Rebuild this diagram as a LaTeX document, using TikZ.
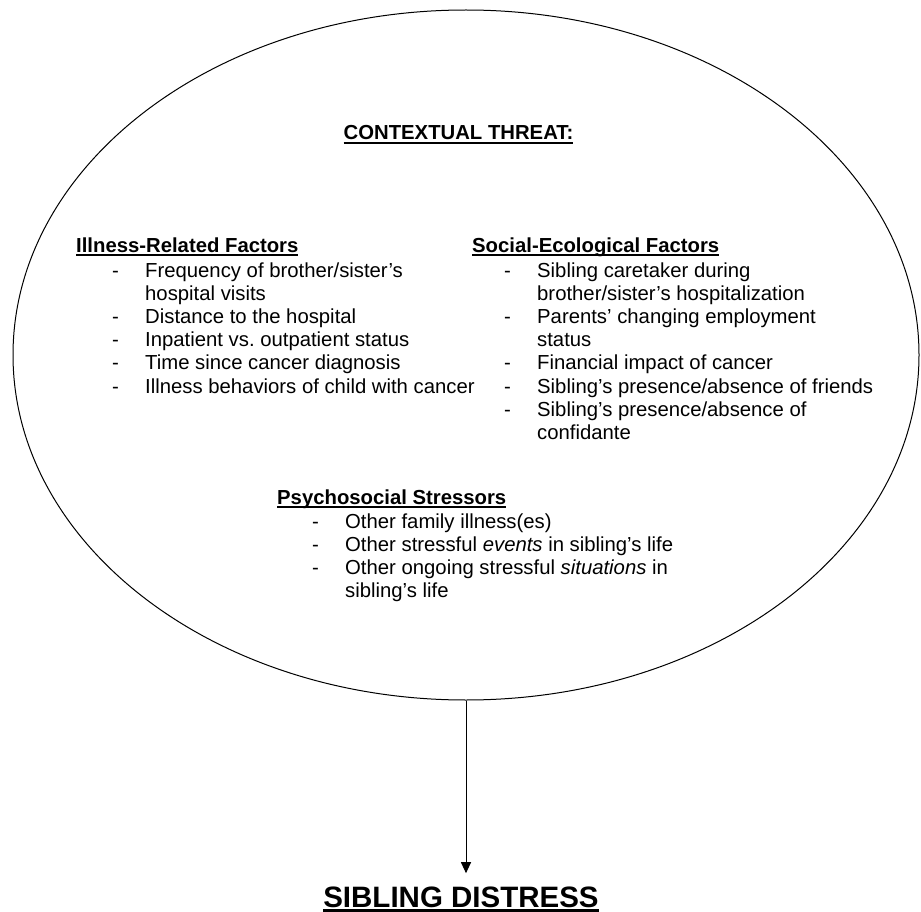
\documentclass[tikz,border=0pt]{standalone}
\usepackage{fontspec}
\setmainfont{Liberation Sans}
\usepackage{tikz}
\usetikzlibrary{
	arrows.meta,
	shapes.geometric
}

% underline with a rule of given thickness
\newcommand{\headul}[2][2pt]{\setbox0\hbox{#2}\rlap{\rule[\dimexpr-#1-2pt\relax]{\wd0}{#1}}\box0}

\tikzset{
	factor/.style={anchor=base west,inner sep=0pt,
		font=\fontsize{20.3}{23.2}\selectfont\bfseries},
	itemlist/.style={anchor=base west,inner sep=0pt,
		font=\fontsize{20.3}{23.2}\selectfont}
}

\begin{document}
\begin{tikzpicture}[x=1pt,y=-1pt]
		\useasboundingbox (0,0) rectangle (921,912);

		\node[draw=black,line width=1pt,ellipse,inner sep=0pt,
			minimum width=906pt,minimum height=690pt] at (466, 355) (threat) {};

		\node[factor,anchor=base] at (458.5, 140) (threat-title)
			{\headul[2.5pt]{CONTEXTUAL THREAT:}};

		\node[factor] at (76, 252) (illness)
			{\headul{Illness-Related Factors}};
		\node[itemlist] at (112, 277) (illness-list)
			{\begin{tabular}[t]{@{}p{33pt}@{}l@{}}
				- & Frequency of brother/sister's \\
				  & hospital visits \\
				- & Distance to the hospital \\
				- & Inpatient vs.\ outpatient status \\
				- & Time since cancer diagnosis \\
				- & Illness behaviors of child with cancer
			\end{tabular}};

		\node[factor] at (472, 252) (social)
			{\headul{Social-Ecological Factors}};
		\node[itemlist] at (504, 277) (social-list)
			{\begin{tabular}[t]{@{}p{33pt}@{}l@{}}
				- & Sibling caretaker during \\
				  & brother/sister's hospitalization \\
				- & Parents' changing employment \\
				  & status \\
				- & Financial impact of cancer \\
				- & Sibling's presence/absence of friends \\
				- & Sibling's presence/absence of \\
				  & confidante
			\end{tabular}};

		\node[factor] at (277, 504) (psycho)
			{\headul{Psychosocial Stressors}};
		\node[itemlist] at (312, 528) (psycho-list)
			{\begin{tabular}[t]{@{}p{33pt}@{}l@{}}
				- & Other family illness(es) \\
				- & Other stressful \textit{events} in sibling's life \\
				- & Other ongoing stressful \textit{situations} in \\
				  & sibling's life
			\end{tabular}};

		\node[anchor=base,inner xsep=0pt,inner ysep=13pt,
			font=\fontsize{29.5}{34}\selectfont\bfseries] at (461, 907) (distress)
			{\headul[3pt]{SIBLING DISTRESS}};

		\draw[line width=1pt,-{Triangle[length=11pt,width=10pt]}]
			(threat.south) -- (threat.south |- distress.north);
	\end{tikzpicture}
\end{document}
